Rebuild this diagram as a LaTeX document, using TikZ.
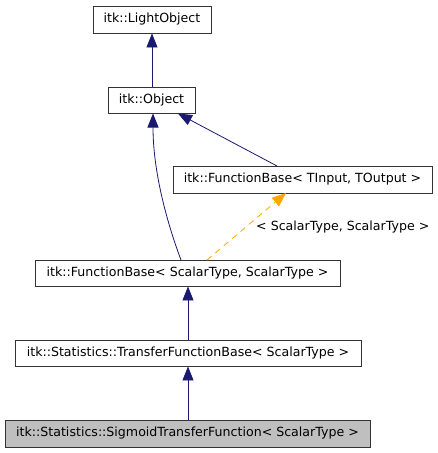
\documentclass[tikz,border=0pt]{standalone}
\usepackage{fontspec}
\setmainfont{DejaVu Sans}
\usetikzlibrary{arrows.meta}
\definecolor{edgeblue}{RGB}{25,25,112}
\definecolor{edgeorange}{RGB}{255,165,0}
\definecolor{boxgray}{RGB}{191,191,191}
\begin{document}
\begin{tikzpicture}[x=1pt,y=-1pt,
  txt/.style={font=\fontsize{12.6}{14}\selectfont},
  cls/.style={txt,draw=black!80,line width=0.9pt,inner sep=0pt,anchor=center},
  inh/.style={draw=edgeblue,line width=0.8pt,-{Triangle[length=14pt,width=11pt,fill=edgeblue]}},
  tmpl/.style={draw=edgeorange,line width=0.8pt,dash pattern=on 6pt off 5pt,-{Triangle[length=14pt,width=11pt,fill=edgeorange]}}]
\useasboundingbox (0,0) rectangle (437,453);
\node[cls,minimum width=118pt,minimum height=27pt] (lo) at (152,19.5) {itk::LightObject};
\node[cls,minimum width=87pt,minimum height=26pt] (ob) at (151.5,100) {itk::Object};
\node[cls,minimum width=259pt,minimum height=27pt] (fbt) at (302.5,179.5) {itk::FunctionBase< TInput, TOutput >};
\node[cls,minimum width=305pt,minimum height=26pt] (fbs) at (187.5,273) {itk::FunctionBase< ScalarType, ScalarType >};
\node[cls,minimum width=346pt,minimum height=26pt] (tfb) at (188,353) {itk::Statistics::TransferFunctionBase< ScalarType >};
\node[cls,fill=boxgray,minimum width=365pt,minimum height=27pt] (sig) at (187.5,433.5) {itk::Statistics::SigmoidTransferFunction< ScalarType >};
\coordinate (c1) at (277,166);
\coordinate (c2) at (181,260);
\coordinate (c3) at (207,260);
\coordinate (c4) at (286,193);
\draw[inh] (ob.north -| lo.south) -- (lo.south);
\draw[inh] (c1) -- (178,113.5);
\draw[inh] (c2) .. controls (166,220) and (153,170) .. (153,113.5);
\draw[tmpl] (c3) -- (c4);
\node[txt,anchor=west,inner sep=0pt] (lab) at (256,227) {< ScalarType, ScalarType >};
\draw[inh] (tfb.north -| 188,0) -- (fbs.south -| 188,0);
\draw[inh] (sig.north -| 188,0) -- (tfb.south -| 188,0);
\end{tikzpicture}
\end{document}
